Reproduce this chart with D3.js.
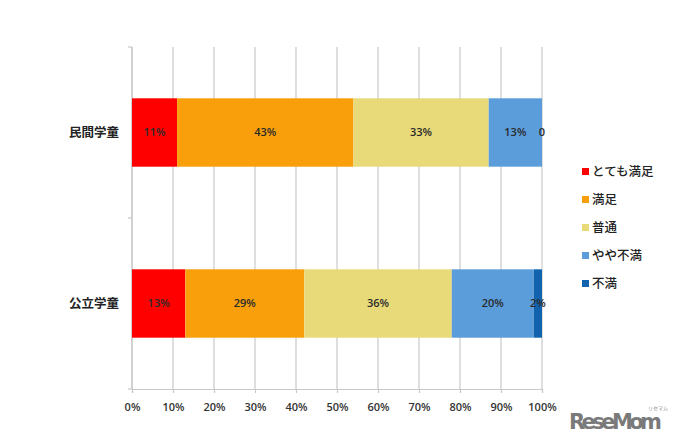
<!DOCTYPE html>
<html><head><meta charset="utf-8">
<script src="https://cdn.jsdelivr.net/npm/d3@7"></script>
<style>html,body{margin:0;padding:0;background:#fff;}svg{display:block;font-family:"Noto Sans CJK JP","Noto Sans",sans-serif;}</style>
</head><body>
<svg id="c" width="678" height="443"></svg>
<script>
const categories = ["民間学童", "公立学童"];
const seriesNames = ["とても満足", "満足", "普通", "やや不満", "不満"];
const seriesColors = ["#fe0000", "#f89f0b", "#e8da79", "#5b9ddb", "#1263ad"];
const valuesMinkan = [11, 43, 33, 13, 0];
const valuesKoritsu = [13, 29, 36, 20, 2];
const labelsMinkan = ["11%", "43%", "33%", "13%", "0"];
const labelsKoritsu = ["13%", "29%", "36%", "20%", "2%"];
const tickValues = [0,10,20,30,40,50,60,70,80,90,100];

const rows = [
  {cat: categories[0], vals: valuesMinkan, labels: labelsMinkan},
  {cat: categories[1], vals: valuesKoritsu, labels: labelsKoritsu}
];

const svg = d3.select("#c");
const x = d3.scaleLinear().domain([0,100]).range([132,542]);
const y = d3.scaleBand().domain(categories).range([47,389]).paddingInner(0.6).paddingOuter(0.3);
const grid = "#c9c9c9";

// gridlines
svg.append("g").selectAll("line").data(tickValues).join("line")
  .attr("x1", d=>x(d)).attr("x2", d=>x(d)).attr("y1",47).attr("y2",389)
  .attr("stroke", grid).attr("stroke-width",1.2);

// x axis
const xAxis = svg.append("g").attr("transform","translate(0,389)")
  .call(d3.axisBottom(x).tickValues(tickValues).tickFormat(d=>d+"%").tickSize(4).tickPadding(10));
xAxis.select(".domain").attr("stroke",grid).attr("stroke-width",1.2);
xAxis.selectAll(".tick line").attr("stroke",grid).attr("stroke-width",1.2);
xAxis.selectAll("text").attr("font-size",11).attr("font-weight",600).attr("fill","#333").attr("font-family","'Open Sans',sans-serif");

// y axis line + boundary ticks
svg.append("line").attr("x1",132).attr("x2",132).attr("y1",47).attr("y2",389).attr("stroke",grid).attr("stroke-width",1.2);
const yb = d3.scaleLinear().domain([0,2]).range([47,389]);
svg.append("g").selectAll("line").data([0,1,2]).join("line")
  .attr("x1",128).attr("x2",132).attr("y1",d=>yb(d)).attr("y2",d=>yb(d))
  .attr("stroke",grid).attr("stroke-width",1.2);

// category labels
svg.append("g").selectAll("text").data(categories).join("text")
  .attr("x",119).attr("y",d=>y(d)+y.bandwidth()/2).attr("dy","0.35em")
  .attr("text-anchor","end").attr("font-size",12.5).attr("font-weight",700).attr("fill","#222")
  .text(d=>d);

// bars
rows.forEach(r=>{
  let cum = 0;
  const segs = r.vals.map((v,i)=>{const s={x0:cum,x1:cum+v,i,label:r.labels[i]}; cum+=v; return s;});
  const g = svg.append("g");
  g.selectAll("rect").data(segs).join("rect")
    .attr("x",d=>x(d.x0)).attr("width",d=>x(d.x1)-x(d.x0))
    .attr("y",y(r.cat)).attr("height",y.bandwidth())
    .attr("fill",d=>seriesColors[d.i]);
  g.selectAll("text").data(segs).join("text")
    .attr("x",d=>(x(d.x0)+x(d.x1))/2).attr("y",y(r.cat)+y.bandwidth()/2).attr("dy","0.35em")
    .attr("text-anchor","middle").attr("font-size",11).attr("font-weight",600).attr("fill","#2a2a2a")
    .attr("font-family","'Open Sans',sans-serif")
    .text(d=>d.label);
});

// legend
const lg = svg.append("g");
seriesNames.forEach((n,i)=>{
  const yy = 172 + i*28;
  lg.append("rect").attr("x",582).attr("y",yy-4).attr("width",7).attr("height",7).attr("fill",seriesColors[i]);
  lg.append("text").attr("x",592).attr("y",yy).attr("dy","0.35em").attr("font-size",12.5).attr("font-weight",500).attr("fill","#222").text(n);
});

// watermark
svg.append("text").attr("x",569).attr("y",429).attr("font-family","'DejaVu Sans',sans-serif").attr("font-weight",700)
  .attr("font-size",21).attr("fill","#7a7a7a").attr("textLength",93).text("ReseMom");
svg.append("text").attr("x",648).attr("y",410).attr("font-size",5).attr("fill","#888").text("リセマム");
</script>
</body></html>
